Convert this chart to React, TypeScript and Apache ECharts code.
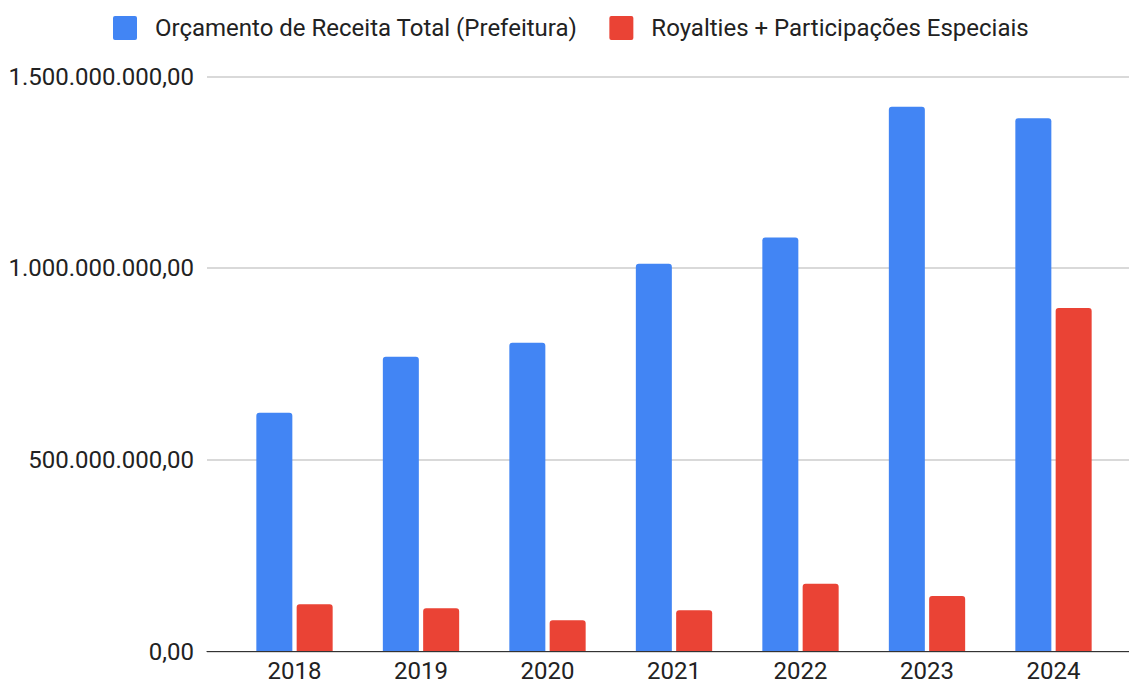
import React, { useEffect, useRef } from "react";
import * as echarts from "echarts";

const years = ["2018", "2019", "2020", "2021", "2022", "2023", "2024"];
const seriesNames = [
  "Orçamento de Receita Total (Prefeitura)",
  "Royalties + Participações Especiais",
];
const orcamento = [623e6, 769e6, 806e6, 1012e6, 1080e6, 1421e6, 1391e6];
const royalties = [124e6, 113e6, 82e6, 108e6, 177e6, 145e6, 896e6];
const yMin = 0;
const yMax = 1.5e9;
const yInterval = 5e8;

const BLUE = "#4285F4";
const RED = "#EA4335";
const FONT = "Roboto";
const LEGEND_ICON =
  "path://M2,0 L22,0 Q24,0 24,2 L24,22 Q24,24 22,24 L2,24 Q0,24 0,22 L0,2 Q0,0 2,0 Z";

function formatBR(v: number): string {
  const neg = v < 0;
  const abs = Math.abs(v);
  const intPart = Math.floor(abs);
  const dec = Math.round((abs - intPart) * 100);
  const s = String(intPart).replace(/\B(?=(\d{3})+(?!\d))/g, ".");
  return (neg ? "-" : "") + s + "," + String(dec).padStart(2, "0");
}

export default function App() {
  const ref = useRef<HTMLDivElement>(null);
  useEffect(() => {
    if (!ref.current) return;
    const chart = echarts.init(ref.current, undefined, { renderer: "svg" });
    const top = 76.5;
    const bottom = 34.3;
    chart.setOption({
      animation: false,
      backgroundColor: "#ffffff",
      textStyle: { fontFamily: FONT },
      legend: {
        data: seriesNames,
        left: 113,
        top: 16,
        padding: 0,
        itemWidth: 24,
        itemHeight: 24,
        itemGap: 32,
        icon: LEGEND_ICON,
        textStyle: {
          fontFamily: FONT,
          fontSize: 24,
          color: "#222222",
          padding: [0, 0, 0, 13],
        },
      },
      grid: [
        { left: 207, right: 0, top, bottom, containLabel: false },
        { left: 231.25, right: 12.25, top, bottom, containLabel: false },
      ],
      xAxis: [
        {
          type: "category",
          gridIndex: 0,
          data: [""],
          axisLine: { show: true, lineStyle: { color: "#333333", width: 1.2 } },
          axisTick: { show: false },
          axisLabel: { show: false },
          splitLine: { show: false },
          z: 5,
        },
        {
          type: "category",
          gridIndex: 1,
          data: years,
          axisLine: { show: false },
          axisTick: { show: false },
          axisLabel: {
            fontFamily: FONT,
            fontSize: 24,
            lineHeight: 20,
            color: "#222222",
            margin: 9,
          },
        },
      ],
      yAxis: [
        {
          type: "value",
          gridIndex: 0,
          min: yMin,
          max: yMax,
          interval: yInterval,
          axisLine: { show: false },
          axisTick: { show: false },
          axisLabel: {
            fontFamily: FONT,
            fontSize: 24,
            color: "#222222",
            margin: 13,
            formatter: (v: number) => formatBR(v),
          },
          splitLine: { show: true, lineStyle: { color: "#cccccc", width: 1.5 } },
        },
        {
          type: "value",
          gridIndex: 1,
          min: yMin,
          max: yMax,
          interval: yInterval,
          show: false,
          splitLine: { show: false },
        },
      ],
      series: [
        {
          name: seriesNames[0],
          type: "bar",
          xAxisIndex: 1,
          yAxisIndex: 1,
          data: orcamento,
          barWidth: 36,
          barGap: "12%",
          itemStyle: { color: BLUE, borderRadius: [3, 3, 0, 0] },
          z: 3,
        },
        {
          name: seriesNames[1],
          type: "bar",
          xAxisIndex: 1,
          yAxisIndex: 1,
          data: royalties,
          barWidth: 36,
          barGap: "12%",
          itemStyle: { color: RED, borderRadius: [3, 3, 0, 0] },
          z: 3,
        },
      ],
    });
    return () => chart.dispose();
  }, []);
  return (
    <div
      ref={ref}
      style={{ position: "fixed", left: 0, top: 0, width: 1129, height: 686 }}
    />
  );
}
